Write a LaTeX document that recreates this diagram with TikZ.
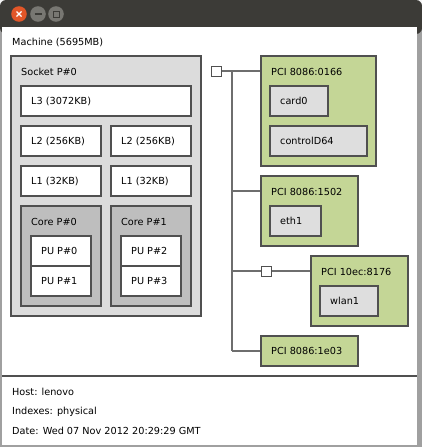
\documentclass[tikz,border=0pt]{standalone}
\usepackage{fontspec}
\setmainfont{DejaVu Sans}
\definecolor{titlebar}{RGB}{60,59,55}
\definecolor{framegray}{RGB}{160,160,160}
\definecolor{boxline}{RGB}{80,80,80}
\definecolor{linkgray}{RGB}{110,110,110}
\definecolor{sockfill}{RGB}{220,220,220}
\definecolor{corefill}{RGB}{190,190,190}
\definecolor{pcifill}{RGB}{196,214,150}
\definecolor{osfill}{RGB}{222,222,222}
\definecolor{closered}{RGB}{226,86,40}
\definecolor{btngray}{RGB}{120,119,114}
\tikzset{
  x=1pt, y=-1pt,
  box/.style={draw=boxline, line width=1.2pt},
  cachebox/.style={box, fill=white},
  lbl/.style={anchor=west, inner sep=0pt, font=\fontsize{9.7}{11}\selectfont},
  link/.style={draw=linkgray, line width=1.2pt},
  bridge/.style={draw=boxline, fill=white, line width=1pt},
}
\begin{document}
\begin{tikzpicture}
\useasboundingbox (0,0) rectangle (422,447);
% window
\fill[framegray] (0,0) rectangle (422,447);
\fill[white!92!gray] (0,0) rectangle (422,20);
\fill[white] (2,27) rectangle (417,445);
\fill[titlebar, rounded corners=6pt] (0,0) rectangle (422,34);
\fill[white] (2,27) rectangle (417,40);
% window buttons
\fill[closered] (19,14) circle (7.8);
\draw[white, line width=1.1pt] (16.5,11.5) -- (21.5,16.5) (16.5,16.5) -- (21.5,11.5);
\fill[btngray] (38,14) circle (7.8);
\draw[titlebar, line width=1.1pt] (34.5,14) -- (41.5,14);
\fill[btngray] (56,14) circle (7.8);
\draw[titlebar, line width=1pt] (53,11) rectangle (59,17);
% machine and legend
\draw[boxline, line width=1.2pt] (2,376) -- (417,376);
\node[lbl] (machine) at (12,42) {Machine (5695MB)};
\node[lbl] (host) at (12,392) {Host: lenovo};
\node[lbl] (idx) at (12,412) {Indexes: physical};
\node[lbl] (date) at (12,431) {Date: Wed 07 Nov 2012 20:29:29 GMT};
% socket
\draw[box, fill=sockfill] (11,56) rectangle (201,316);
\node[lbl] (socket) at (21,72) {Socket P\#0};
\draw[cachebox] (21,86) rectangle (191,116);
\node[lbl] (l3) at (31,101) {L3 (3072KB)};
\draw[cachebox] (21,126) rectangle (101,156);
\node[lbl] (l2a) at (31,141) {L2 (256KB)};
\draw[cachebox] (111,126) rectangle (191,156);
\node[lbl] (l2b) at (121,141) {L2 (256KB)};
\draw[cachebox] (21,166) rectangle (101,196);
\node[lbl] (l1a) at (31,181) {L1 (32KB)};
\draw[cachebox] (111,166) rectangle (191,196);
\node[lbl] (l1b) at (121,181) {L1 (32KB)};
\draw[box, fill=corefill] (21,206) rectangle (101,306);
\node[lbl] (core0) at (31,222) {Core P\#0};
\draw[box, fill=corefill] (111,206) rectangle (191,306);
\node[lbl] (core1) at (121,222) {Core P\#1};
\draw[cachebox] (31,236) rectangle (91,266);
\node[lbl] (pu0) at (41,251) {PU P\#0};
\draw[cachebox] (31,266) rectangle (91,296);
\node[lbl] (pu1) at (41,281) {PU P\#1};
\draw[cachebox] (121,236) rectangle (181,266);
\node[lbl] (pu2) at (131,251) {PU P\#2};
\draw[cachebox] (121,266) rectangle (181,296);
\node[lbl] (pu3) at (131,281) {PU P\#3};
% PCI tree
\coordinate (b1) at (216,71);
\coordinate (tr) at (232,71);
\coordinate (tb) at (232,351);
\draw[link] (b1) -- (261,71);
\draw[link] (tr) -- (tb);
\draw[link] (232,191) -- (261,191);
\draw[link] (232,271) -- (311,271);
\draw[link] (tb) -- (261,351);
\draw[bridge] (211,66) rectangle (221,76);
\draw[bridge] (261,266) rectangle (271,276);
% PCI devices
\draw[box, fill=pcifill] (261,56) rectangle (376,166);
\node[lbl] (pci1) at (271,72) {PCI 8086:0166};
\draw[box, fill=osfill] (270,86) rectangle (328,116);
\node[lbl] (card0) at (280,101) {card0};
\draw[box, fill=osfill] (270,126) rectangle (367,156);
\node[lbl] (ctrl) at (280,141) {controlD64};
\draw[box, fill=pcifill] (261,176) rectangle (358,246);
\node[lbl] (pci2) at (271,192) {PCI 8086:1502};
\draw[box, fill=osfill] (270,206) rectangle (321,236);
\node[lbl] (eth1) at (280,221) {eth1};
\draw[box, fill=pcifill] (311,256) rectangle (408,326);
\node[lbl] (pci3) at (321,272) {PCI 10ec:8176};
\draw[box, fill=osfill] (320,286) rectangle (378,316);
\node[lbl] (wlan1) at (330,301) {wlan1};
\draw[box, fill=pcifill] (261,336) rectangle (358,366);
\node[lbl] (pci4) at (271,351) {PCI 8086:1e03};
\end{tikzpicture}
\end{document}
